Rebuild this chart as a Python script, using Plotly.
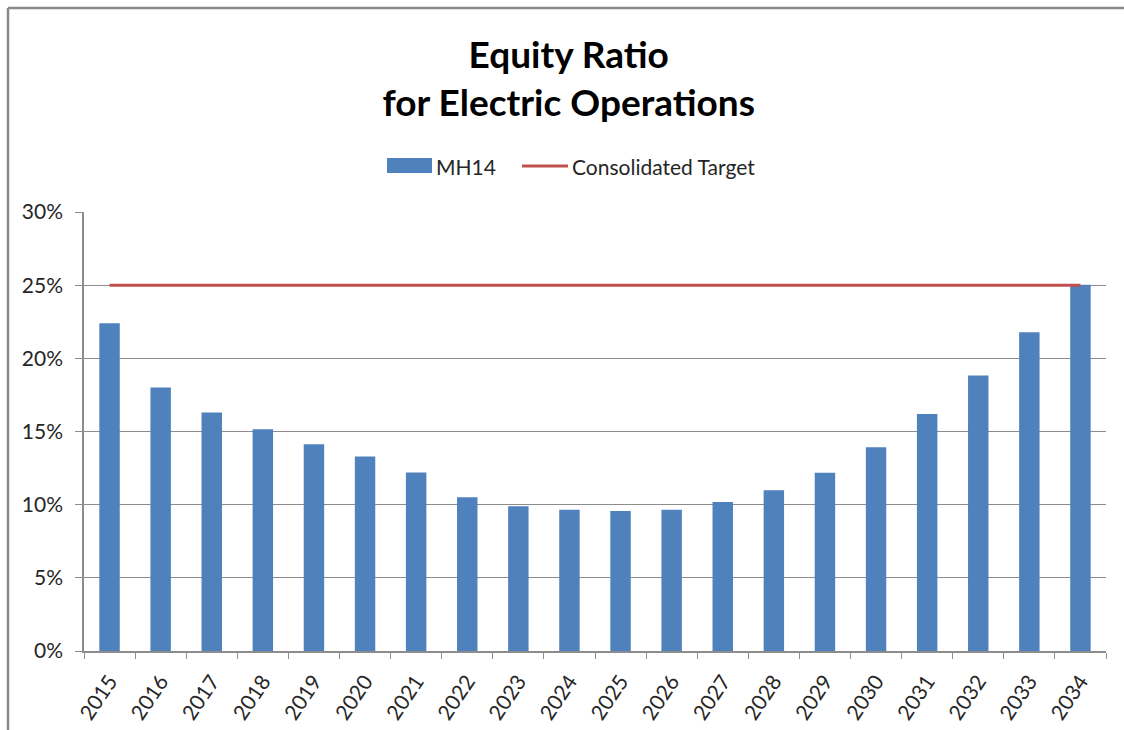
import plotly.graph_objects as go

# Equity ratio for electric operations, MH14 forecast
years = [str(y) for y in range(2015, 2035)]
mh14 = [0.224, 0.180, 0.163, 0.1515, 0.1413, 0.133, 0.122, 0.105, 0.099, 0.0965,
        0.0956, 0.0965, 0.1018, 0.1098, 0.1218, 0.1392, 0.162, 0.1882, 0.2179, 0.2503]
target = [0.25] * len(years)

BAR_BLUE = "#4F81BD"
TARGET_RED = "#C0504D"
AXIS_GREY = "#8C8C8C"
FONT = "Lato, 'Open Sans', sans-serif"

W, H = 1124, 730
L, R, T, B = 84, 1106, 212, 651  # plot-area edges in pixels


def px_x(p):
    return (p - L) / (R - L)


def px_y(p):
    return (B - p) / (B - T)


fig = go.Figure()
fig.add_trace(go.Bar(x=years, y=mh14, name="MH14", marker_color=BAR_BLUE,
                     marker_line_width=0, showlegend=False))
fig.add_trace(go.Scatter(x=years, y=target, name="Consolidated Target", mode="lines",
                         line=dict(color=TARGET_RED, width=3), showlegend=False))

# Legend drawn as swatches plus labels
fig.add_shape(type="rect", xref="paper", yref="paper",
              x0=px_x(387), x1=px_x(432), y0=px_y(173), y1=px_y(158),
              fillcolor=BAR_BLUE, line_width=0)
fig.add_annotation(text="MH14", xref="paper", yref="paper", x=px_x(434), y=px_y(166),
                   xanchor="left", yanchor="middle", showarrow=False,
                   font=dict(family=FONT, size=21, color="#262626"))
fig.add_shape(type="line", xref="paper", yref="paper",
              x0=px_x(522), x1=px_x(568), y0=px_y(166), y1=px_y(166),
              line=dict(color=TARGET_RED, width=3))
fig.add_annotation(text="Consolidated Target", xref="paper", yref="paper", x=px_x(570), y=px_y(166),
                   xanchor="left", yanchor="middle", showarrow=False,
                   font=dict(family=FONT, size=21, color="#262626"))

# Chart frame (top and left edges)
fig.add_shape(type="line", xref="paper", yref="paper",
              x0=px_x(8), x1=px_x(1130), y0=px_y(8), y1=px_y(8),
              line=dict(color="#8A8A8A", width=2.5))
fig.add_shape(type="line", xref="paper", yref="paper",
              x0=px_x(8), x1=px_x(8), y0=px_y(8), y1=px_y(740),
              line=dict(color="#8A8A8A", width=2.5))

fig.update_layout(
    width=W, height=H,
    margin=dict(l=L, r=W - R, t=T, b=H - B),
    paper_bgcolor="white", plot_bgcolor="white",
    bargap=0.6,
    title=dict(text="<b>Equity Ratio<br>for Electric Operations</b>",
               x=0.506, xanchor="center", yref="container", y=1 - 68 / H, yanchor="top",
               font=dict(family=FONT, size=37, color="black")),
    font=dict(family=FONT, color="#262626"),
)
fig.update_xaxes(type="category", showline=True, linecolor=AXIS_GREY, linewidth=1.5,
                 ticks="outside", tickson="boundaries", ticklen=6, tickcolor=AXIS_GREY,
                 tickangle=-56, tickfont=dict(size=21, family=FONT, color="#262626"),
                 ticklabelstandoff=8, showgrid=False, automargin=False)
fig.update_yaxes(range=[0, 0.30], dtick=0.05, tickformat=".0%", showline=True,
                 linecolor=AXIS_GREY, linewidth=1.5, ticks="outside", ticklen=7,
                 tickcolor=AXIS_GREY, gridcolor=AXIS_GREY, gridwidth=1.2,
                 zeroline=False, ticklabelstandoff=8, automargin=False,
                 tickfont=dict(size=21, family=FONT, color="#262626"))

fig.write_html("out.html")
